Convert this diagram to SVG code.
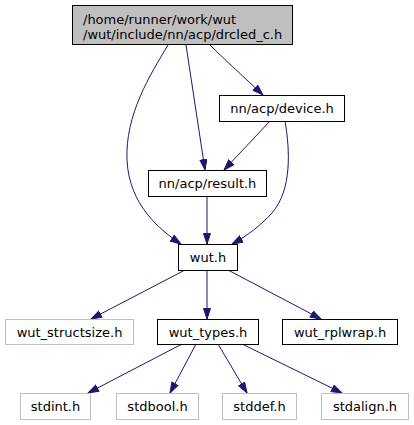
<svg xmlns="http://www.w3.org/2000/svg" width="414" height="425" viewBox="0 0 414 425">
<style>
.box{fill:#ffffff;stroke:#000000;stroke-width:1}
.gray{fill:#ffffff;stroke:#bfbfbf;stroke-width:1}
.root{fill:#bfbfbf;stroke:#000000;stroke-width:1}
text{font-family:"DejaVu Sans",sans-serif;font-size:13px;fill:#000000;text-anchor:middle}
.l{text-anchor:start}
.e{fill:none;stroke:#191970;stroke-width:1;marker-end:url(#ah)}
</style>
<defs>
<marker id="ah" markerUnits="userSpaceOnUse" markerWidth="12" markerHeight="10" refX="11" refY="4" orient="auto">
<path d="M0.5,0.5 L11,4 L0.5,7.5 z" fill="#191970" stroke="#191970" stroke-width="1"/>
</marker>
</defs>
<rect width="414" height="425" fill="#ffffff"/>
<g id="edges">
<path class="e" d="M168,45 C150,75 125,115 127,160 C129,205 160,230 181,244"/>
<path class="e" d="M186,45 L205,170"/>
<path class="e" d="M210,45 C225,60 245,78 263,95"/>
<path class="e" d="M270,121 L224,170"/>
<path class="e" d="M285,121 C290,150 292,190 272,213 C260,226 247,236 232,244"/>
<path class="e" d="M207,196 L207,244"/>
<path class="e" d="M185,270 L91,319"/>
<path class="e" d="M207,270 L207,319"/>
<path class="e" d="M228,270 L321,319"/>
<path class="e" d="M182,344 L88,393"/>
<path class="e" d="M196,344 L170,393"/>
<path class="e" d="M218,344 L247,393"/>
<path class="e" d="M242,344 L342,393"/>
</g>
<g id="root"><rect class="root" x="72.5" y="5.5" width="220" height="39"/><text class="l" x="83" y="23.5">/home/runner/work/wut</text><text class="l" x="83" y="38.5">/wut/include/nn/acp/drcled_c.h</text></g>
<g id="device"><rect class="box" x="219.5" y="95.5" width="125" height="26"/><text x="282" y="113">nn/acp/device.h</text></g>
<g id="result"><rect class="box" x="148.5" y="170.5" width="118" height="26"/><text x="207.5" y="188">nn/acp/result.h</text></g>
<g id="wut"><rect class="box" x="178.5" y="244.5" width="59" height="26"/><text x="208" y="262">wut.h</text></g>
<g id="structsize"><rect class="gray" x="5.5" y="319.5" width="128" height="25"/><text x="69.5" y="336.5">wut_structsize.h</text></g>
<g id="types"><rect class="box" x="157.5" y="319.5" width="101" height="25"/><text x="208" y="336.5">wut_types.h</text></g>
<g id="rplwrap"><rect class="box" x="282.5" y="319.5" width="115" height="25"/><text x="340" y="336.5">wut_rplwrap.h</text></g>
<g id="stdint"><rect class="gray" x="20.5" y="393.5" width="70" height="26"/><text x="55.5" y="411">stdint.h</text></g>
<g id="stdbool"><rect class="gray" x="116.5" y="393.5" width="82" height="26"/><text x="157.5" y="411">stdbool.h</text></g>
<g id="stddef"><rect class="gray" x="222.5" y="393.5" width="74" height="26"/><text x="259.5" y="411">stddef.h</text></g>
<g id="stdalign"><rect class="gray" x="321.5" y="393.5" width="87" height="26"/><text x="365" y="411">stdalign.h</text></g>
</svg>
